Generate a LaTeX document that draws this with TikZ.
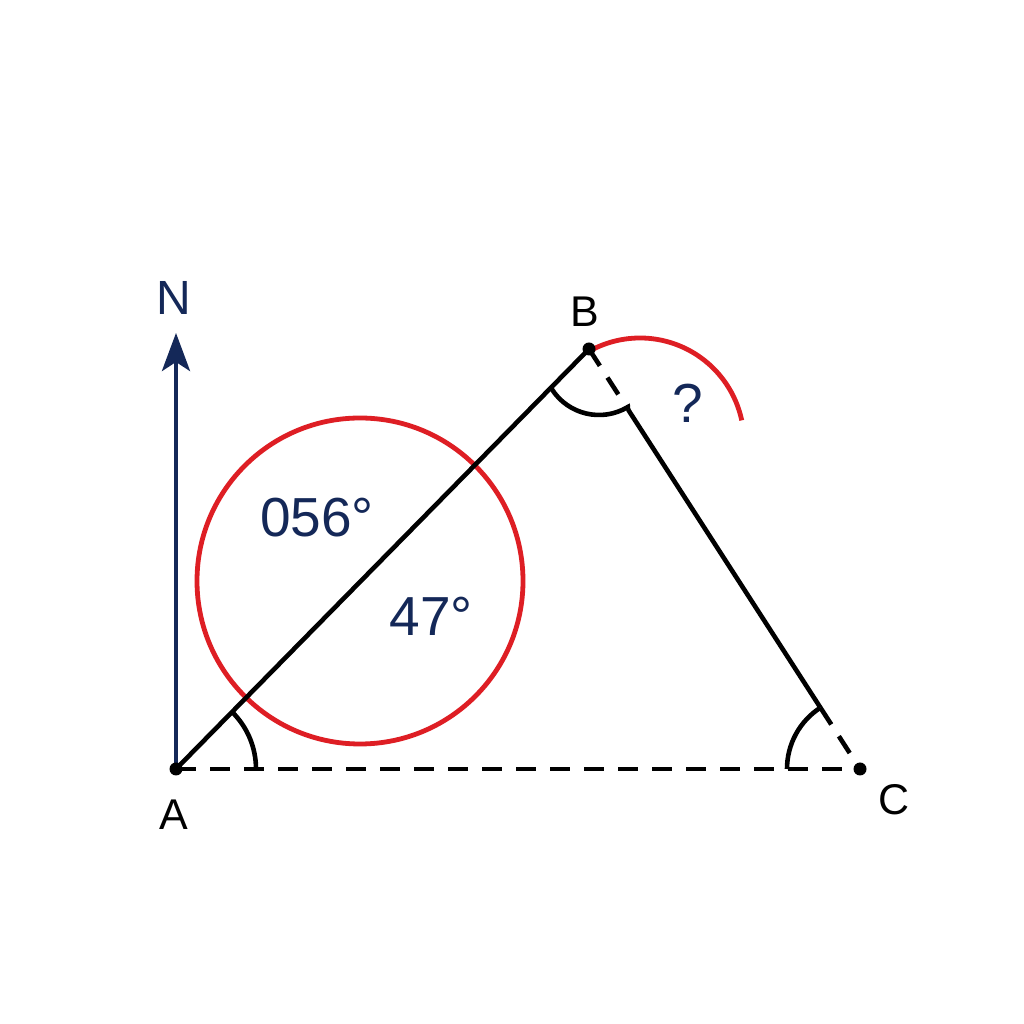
\documentclass[tikz,border=0pt]{standalone}
\usepackage{fontspec}
\setmainfont{Liberation Sans}
\usetikzlibrary{arrows.meta,calc}
\definecolor{navy}{RGB}{20,40,88}
\definecolor{redc}{RGB}{222,30,36}
\begin{document}
\begin{tikzpicture}[x=1pt,y=1pt,
  seg/.style={line width=4.6pt, black},
  dashseg/.style={seg, dash pattern=on 20pt off 14pt},
  lbl/.style={inner sep=0pt, font=\fontsize{43}{48}\selectfont},
  val/.style={inner sep=0pt, text=navy, font=\fontsize{55}{60}\selectfont},
  dotnode/.style={circle, fill=black, inner sep=0pt, minimum size=13pt}]
\fill[white] (0,0) rectangle (1024,1024);
\useasboundingbox (0,0) rectangle (1024,1024);
\coordinate (A) at (176,255);
\coordinate (B) at (589,675);
\coordinate (C) at (860,255);
\coordinate (Ntip) at (176,691);
\coordinate (O) at (360,443);
\coordinate (P1) at ($(B)!72pt!(C)$);
\coordinate (P2) at ($(C)!73pt!(B)$);
\coordinate (Bc) at (599,665);
\coordinate (Rc) at (640,582);

\draw[redc, line width=4.8pt] (O) circle[radius=163pt];
\draw[navy, line width=4.2pt, -{Stealth[length=38pt,width=28pt,inset=9pt]}] (A) -- (Ntip);
\draw[seg] (A) -- (B);
\draw[dashseg] (A) -- (C);
\draw[dashseg] (B) -- (P1);
\draw[seg] (P1) -- (P2);
\draw[dashseg] (P2) -- (C);
% angle arcs
\draw[seg] ($(A)+(80,0)$) arc[start angle=0, end angle=45.5, radius=80pt];
\draw[seg] ($(C)+(-73,0)$) arc[start angle=180, end angle=122.8, radius=73pt];
\draw[seg] (Bc) ++(212.5:56) arc[start angle=212.5, end angle=301, radius=56pt] -- (P1);
\draw[redc, line width=4.8pt] (Rc) ++(117:104) arc[start angle=117, end angle=12, radius=104pt];

\node[dotnode] (dA) at (A) {};
\node[dotnode] (dB) at (B) {};
\node[dotnode] (dC) at (C) {};

\node[lbl, text=navy, font=\fontsize{48}{52}\selectfont] (Nl) at (174,726) {N};
\node[lbl] (Bl) at (585,712) {B};
\node[lbl] (Al) at (174,209) {A};
\node[lbl] (Cl) at (894,224) {C};
\node[val] (v1) at (317,506) {056°};
\node[val] (v2) at (431,408) {47°};
\node[val] (q) at (688,621) {?};
\end{tikzpicture}
\end{document}
